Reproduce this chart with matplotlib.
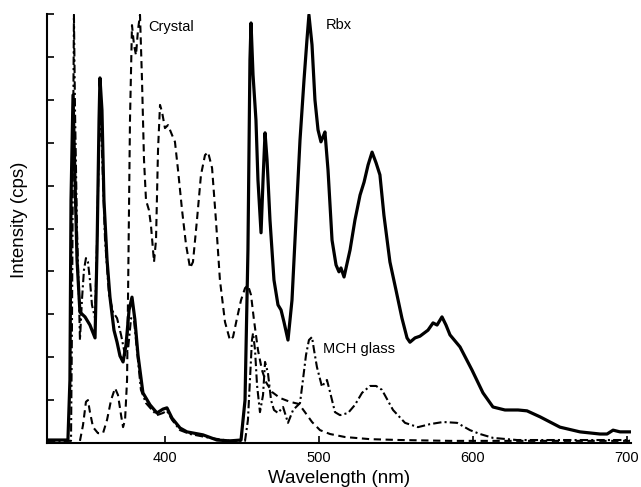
import matplotlib
matplotlib.use("Agg")
import matplotlib.pyplot as plt

plt.rcParams["font.family"] = ["Liberation Sans", "DejaVu Sans"]

# Rbx emission (solid)
rbx_nm = [323.4, 337.0, 338.3, 339.0, 340.3, 341.6, 342.9, 344.8, 348.1, 351.3,
          354.6, 355.9, 357.2, 357.8, 359.1, 360.4, 362.4, 364.3, 366.9, 368.9,
          370.8, 372.8, 374.7, 376.7, 378.6, 380.5, 382.5, 385.7, 390.3, 394.8,
          398.7, 401.3, 404.6, 409.8, 414.3, 424.7, 433.8, 442.2, 449.4, 452.0,
          453.9, 455.2, 455.9, 457.2, 459.1, 460.4, 462.4, 463.7, 465.0, 466.3,
          468.2, 470.8, 473.4, 475.4, 477.3, 479.9, 482.5, 485.1, 487.7, 490.3,
          492.2, 493.5, 495.5, 497.4, 499.4, 501.3, 502.6, 503.9, 505.9, 508.5,
          511.1, 513.0, 514.3, 516.3, 520.2, 523.4, 526.7, 529.3, 531.9, 534.5,
          537.1, 539.6, 542.2, 546.1, 550.0, 553.9, 557.2, 559.1, 562.4, 565.6,
          570.8, 574.1, 576.7, 579.9, 582.5, 585.1, 591.6, 599.4, 606.5, 613.0,
          620.8, 629.3, 635.1, 643.6, 656.5, 669.5, 682.5, 687.1, 691.0, 695.5,
          702.0]
rbx_int = [0.07, 0.07, 1.47, 5.66, 8.11, 6.13, 4.27, 3.05, 2.94, 2.75,
           2.45, 4.50, 7.53, 8.51, 7.76, 5.66, 4.27, 3.40, 2.63, 2.35,
           2.03, 1.89, 2.28, 3.10, 3.40, 2.87, 2.05, 1.17, 0.89, 0.70,
           0.79, 0.82, 0.58, 0.35, 0.26, 0.19, 0.07, 0.05, 0.07, 1.00,
           4.50, 8.93, 9.79, 8.58, 7.53, 6.13, 4.90, 6.13, 7.23, 6.60,
           5.20, 3.80, 3.22, 3.10, 2.82, 2.40, 3.33, 5.20, 7.06, 8.46,
           9.39, 9.98, 9.28, 8.00, 7.30, 7.02, 7.13, 7.25, 6.36, 4.73,
           4.15, 3.99, 4.08, 3.87, 4.50, 5.20, 5.78, 6.08, 6.48, 6.78,
           6.53, 6.25, 5.31, 4.22, 3.57, 2.91, 2.45, 2.35, 2.45, 2.49,
           2.63, 2.80, 2.75, 2.94, 2.75, 2.52, 2.24, 1.70, 1.17, 0.84,
           0.77, 0.77, 0.75, 0.61, 0.37, 0.26, 0.21, 0.21, 0.30, 0.26,
           0.26]

# Crystal emission (dashed)
cry_nm = [344.8, 346.8, 348.7, 350.0, 351.3, 353.3, 356.5, 359.8, 362.4, 365.0,
          367.6, 369.5, 371.5, 372.8, 374.1, 375.4, 376.0, 377.3, 378.6, 379.9,
          381.2, 382.5, 383.8, 385.1, 386.4, 387.7, 389.6, 390.9, 392.9, 394.2,
          395.5, 396.8, 398.1, 400.0, 402.0, 404.6, 406.5, 408.5, 411.1, 413.7,
          416.3, 418.2, 420.8, 423.4, 426.0, 428.0, 430.6, 433.1, 435.7, 439.0,
          442.2, 444.2, 446.8, 449.4, 452.0, 453.9, 455.9, 457.8, 460.4, 463.0,
          465.6, 469.5, 474.7, 481.2, 487.0, 490.9, 495.5, 500.7, 507.2, 516.9,
          533.2, 552.6, 585.1, 702.0]
cry_int = [0.05, 0.42, 0.96, 1.00, 0.72, 0.37, 0.23, 0.23, 0.54, 1.00,
           1.28, 1.12, 0.65, 0.37, 0.54, 1.47, 3.33, 7.53, 9.74, 9.28,
           9.04, 9.63, 9.98, 8.46, 6.60, 5.66, 5.43, 5.08, 4.22, 4.73,
           6.83, 7.88, 7.72, 7.34, 7.41, 7.18, 7.02, 6.36, 5.43, 4.62,
           4.08, 4.22, 5.20, 6.25, 6.71, 6.78, 6.41, 5.20, 3.80, 2.82,
           2.40, 2.47, 2.91, 3.33, 3.61, 3.68, 3.45, 2.87, 2.17, 1.70,
           1.42, 1.19, 1.05, 0.96, 0.91, 0.72, 0.49, 0.30, 0.21, 0.14,
           0.09, 0.07, 0.05, 0.05]

# MCH glass emission (dash-dot)
mch_nm = [323.4, 339.0, 339.6, 340.3, 340.9, 341.6, 342.9, 344.2, 344.8, 346.1,
          347.4, 348.7, 350.0, 351.3, 352.6, 354.6, 355.9, 357.2, 357.8, 359.1,
          361.1, 363.7, 366.3, 368.9, 371.5, 374.1, 376.0, 378.0, 379.9, 381.8,
          384.4, 387.7, 391.6, 394.8, 398.7, 401.3, 404.6, 409.8, 416.3, 429.3,
          442.2, 452.0, 453.9, 455.2, 456.5, 457.2, 458.5, 459.8, 461.7, 463.7,
          465.0, 466.9, 468.9, 470.8, 473.4, 476.7, 479.9, 483.2, 487.7, 489.6,
          491.6, 493.5, 495.5, 496.8, 498.7, 502.0, 503.9, 505.2, 507.2, 510.4,
          513.7, 518.9, 523.4, 528.0, 533.2, 537.1, 540.9, 548.1, 555.9, 564.3,
          572.1, 580.6, 589.7, 598.1, 604.6, 613.0, 628.6, 702.0]
mch_int = [0.05, 0.05, 2.63, 6.83, 9.98, 7.76, 4.97, 3.33, 2.40, 3.33,
           4.03, 4.31, 4.22, 3.80, 3.22, 2.91, 4.73, 7.06, 7.76, 6.83,
           4.73, 3.45, 3.05, 2.91, 2.52, 2.05, 2.17, 2.91, 2.87, 2.17,
           1.24, 0.93, 0.77, 0.65, 0.70, 0.75, 0.54, 0.30, 0.21, 0.12,
           0.05, 0.05, 0.54, 1.47, 2.40, 2.56, 2.17, 1.35, 0.72, 1.12,
           1.89, 1.63, 1.00, 0.77, 0.70, 0.84, 0.47, 0.77, 0.93, 1.47,
           2.05, 2.40, 2.47, 2.17, 1.77, 1.31, 1.42, 1.47, 1.19, 0.72,
           0.65, 0.70, 0.89, 1.17, 1.33, 1.33, 1.24, 0.77, 0.47, 0.37,
           0.44, 0.49, 0.47, 0.30, 0.21, 0.12, 0.07, 0.07]

x_ticks = [400, 500, 600, 700]
y_ticks = list(range(0, 11))

fig = plt.figure(figsize=(6.41, 4.87), dpi=100)
ax = fig.add_axes([0.0733, 0.0903, 0.911, 0.881])

ax.plot(rbx_nm, rbx_int, color="black", lw=2.3, solid_joinstyle="round")
ax.plot(cry_nm, cry_int, color="black", lw=1.5, dashes=(3.5, 2.2))
ax.plot(mch_nm, mch_int, color="black", lw=1.5, dashes=(4, 1.5, 1, 1.5))

ax.text(389.0, 9.70, "Crystal", fontsize=10.5, va="center")
ax.text(504.6, 9.74, "Rbx", fontsize=10.5, va="center")
ax.text(502.6, 2.19, "MCH glass", fontsize=10.5, va="center")

ax.set_xlim(323.4, 702.6)
ax.set_ylim(0, 10)
ax.set_xticks(x_ticks)
ax.set_yticks(y_ticks)
ax.set_yticklabels([])
ax.tick_params(direction="in", length=5, width=1.2, labelsize=10.5, pad=6)
for side in ("top", "right"):
    ax.spines[side].set_visible(False)
for side in ("left", "bottom"):
    ax.spines[side].set_linewidth(1.5)

ax.set_xlabel("Wavelength (nm)", fontsize=13.5, labelpad=3)
ax.set_ylabel("Intensity (cps)", fontsize=13.5)
ax.yaxis.set_label_coords(-0.032, 0.52)

fig.savefig("out.png", dpi=100)
